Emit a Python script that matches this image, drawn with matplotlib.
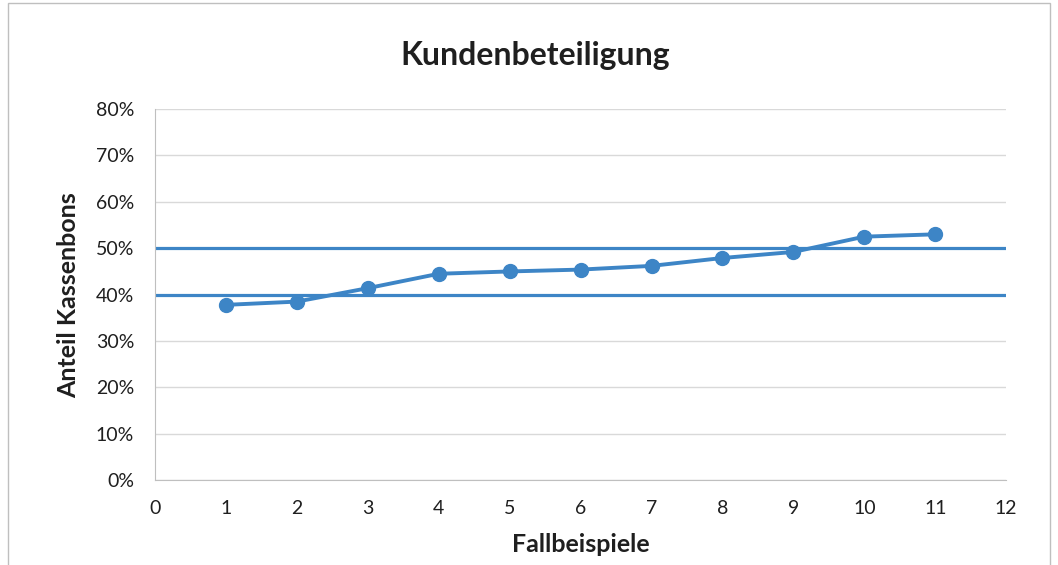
import matplotlib.pyplot as plt
from matplotlib.patches import Rectangle
from matplotlib.ticker import FuncFormatter

plt.rcParams['font.family'] = ['Lato', 'DejaVu Sans']

# Data
fallbeispiele = [1, 2, 3, 4, 5, 6, 7, 8, 9, 10, 11]
anteil = [0.378, 0.385, 0.414, 0.445, 0.450, 0.454, 0.462, 0.479, 0.492, 0.525, 0.530]
grenzen = [0.40, 0.50]

blue = '#3d85c6'
txt = '#1f1f1f'

fig = plt.figure(figsize=(10.58, 5.65), dpi=100)
ax = fig.add_axes([0.1465, 0.150, 0.8045, 0.657])

# chart frame
fig.patches.append(Rectangle((8 / 1058, -0.05), 1042 / 1058, 1.05 - 3 / 565,
                             transform=fig.transFigure, fill=False,
                             edgecolor='#bfbfbf', linewidth=1))

for g in grenzen:
    ax.axhline(g, color=blue, linewidth=2.3, zorder=2)

ax.plot(fallbeispiele, anteil, color=blue, linewidth=2.8, marker='o',
        markersize=10, zorder=3)

ax.set_xlim(0, 12)
ax.set_ylim(0, 0.8)
ax.set_xticks(range(0, 13))
ax.set_yticks([i / 10 for i in range(0, 9)])
ax.yaxis.set_major_formatter(FuncFormatter(lambda v, p: f"{v * 100:.0f}%"))
ax.grid(axis='y', color='#d9d9d9', linewidth=1)
ax.set_axisbelow(True)

for s in ['top', 'right']:
    ax.spines[s].set_visible(False)
ax.spines['left'].set_color('#bfbfbf')
ax.spines['bottom'].set_color('#bfbfbf')
ax.tick_params(length=0, labelsize=14, colors=txt)
ax.tick_params(axis='x', pad=14)
ax.tick_params(axis='y', pad=15)

# title is centred on the whole chart, not on the plot area
fig.text(0.506, 1 - 55 / 565, 'Kundenbeteiligung', fontsize=23, fontweight='bold',
         color=txt, ha='center', va='center')
ax.set_xlabel('Fallbeispiele', fontsize=18, fontweight='bold', color=txt, labelpad=12)
ax.set_ylabel('Anteil Kassenbons', fontsize=18, fontweight='bold', color=txt, labelpad=11)

fig.savefig('out.png', dpi=100)
